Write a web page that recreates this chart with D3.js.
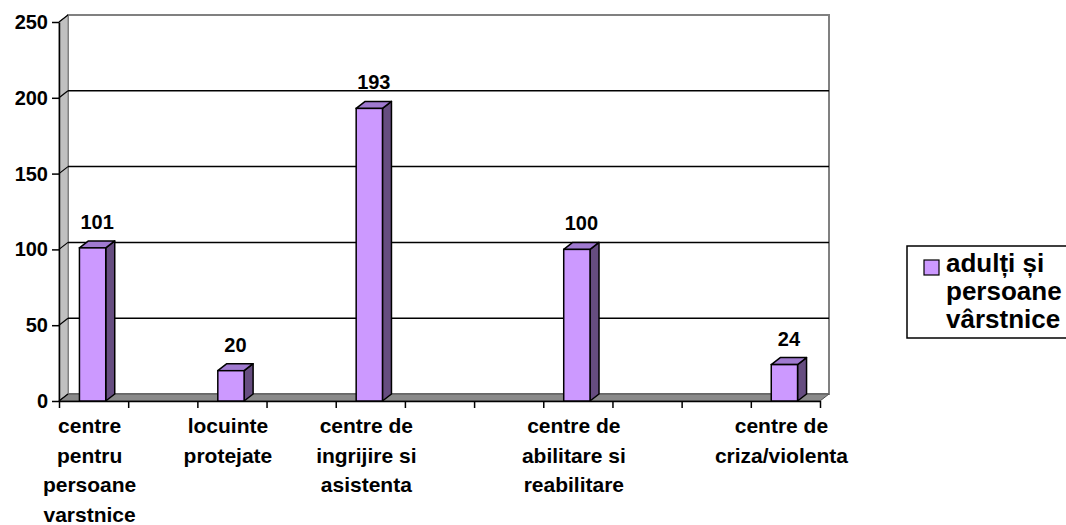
<!DOCTYPE html>
<html>
<head>
<meta charset="utf-8">
<script src="https://cdn.jsdelivr.net/npm/d3@7"></script>
<style>
  body { margin: 0; background: #fff; }
  text { font-family: "Liberation Sans", Arial, sans-serif; font-weight: bold; fill: #000; }
</style>
</head>
<body>
<svg id="vis" width="1066" height="525"></svg>
<script>
// ************************** DATA **************************//
var categories = ["centre pentru persoane varstnice", "", "locuinte protejate", "",
  "centre de ingrijire si asistenta", "", "", "centre de abilitare si reabilitare", "", "",
  "centre de criza/violenta"];
var values = [101, null, 20, null, 193, null, null, 100, null, null, 24];
var yTicks = [0, 50, 100, 150, 200, 250];
var seriesName = "adulți și persoane vârstnice";

// ************************** SCALES **************************//
var svg = d3.select("#vis");
var plotL = 59, plotR = 820, plotB = 401, plotT = 22;
var dx = 9, dy = -7;   // 3d depth offset

var x = d3.scaleBand().domain(d3.range(categories.length)).range([plotL, plotR]);
var xEdge = d3.scaleLinear().domain([0, categories.length]).range([plotL, plotR]);
var y = d3.scaleLinear().domain([0, 250]).range([plotB, plotT]);

var bw = x.bandwidth() * 0.38;

function pts(a) { return a.map(p => p.join(",")).join(" "); }

// ************************** WALLS **************************//
// back wall
svg.append("rect")
  .attr("x", plotL + dx).attr("y", y(250) + dy)
  .attr("width", plotR - plotL).attr("height", y(0) - y(250))
  .attr("fill", "#fff").attr("stroke", "#808080").attr("stroke-width", 2);

// left wall
svg.append("polygon")
  .attr("points", pts([[plotL, y(250)], [plotL + dx, y(250) + dy], [plotL + dx, y(0) + dy], [plotL, y(0)]]))
  .attr("fill", "#c0c0c0").attr("stroke", "#808080").attr("stroke-width", 1);

// floor
svg.append("polygon")
  .attr("points", pts([[plotL, y(0)], [plotR, y(0)], [plotR + dx, y(0) + dy], [plotL + dx, y(0) + dy]]))
  .attr("fill", "#8a8a8a").attr("stroke", "#505050").attr("stroke-width", 1);

// gridlines on the back wall + diagonals on the side wall
var grid = svg.append("g");
yTicks.filter(t => t > 0 && t < 250).forEach(function(t) {
  grid.append("line")
    .attr("x1", plotL + dx).attr("x2", plotR + dx)
    .attr("y1", y(t) + dy).attr("y2", y(t) + dy)
    .attr("stroke", "#000").attr("stroke-width", 1.5);
});
yTicks.forEach(function(t) {
  grid.append("line")
    .attr("x1", plotL).attr("y1", y(t))
    .attr("x2", plotL + dx).attr("y2", y(t) + dy)
    .attr("stroke", "#000").attr("stroke-width", 1.2);
});

// ************************** AXES **************************//
svg.append("g")
  .attr("transform", `translate(${plotL},0)`)
  .call(d3.axisLeft(y).tickValues(yTicks).tickSize(7).tickPadding(4).tickSizeOuter(0))
  .call(g => g.select(".domain").attr("stroke", "#000").attr("stroke-width", 1.5))
  .call(g => g.selectAll(".tick line").attr("stroke", "#000").attr("stroke-width", 1.5))
  .call(g => g.selectAll(".tick text").attr("font-size", "20px")
    .attr("font-family", "'Liberation Sans', Arial, sans-serif").attr("font-weight", "bold").attr("fill", "#000"));

svg.append("g")
  .attr("transform", `translate(0,${plotB})`)
  .call(d3.axisBottom(xEdge).tickValues(d3.range(categories.length + 1)).tickSize(7).tickSizeOuter(0).tickFormat(""))
  .call(g => g.select(".domain").attr("stroke", "#000").attr("stroke-width", 1.5))
  .call(g => g.selectAll(".tick line").attr("stroke", "#000").attr("stroke-width", 1.5));

// ************************** BARS **************************//
var data = values.map((v, i) => ({ i: i, v: v })).filter(d => d.v != null);

var bars = svg.selectAll("g.bar").data(data).join("g").attr("class", "bar");

bars.each(function(d) {
  var g = d3.select(this);
  var x0 = x(d.i) + (x.bandwidth() - bw) / 2 - 1, x1 = x0 + bw;
  var y0 = y(0), y1 = y(d.v);
  // side
  g.append("polygon")
    .attr("points", pts([[x1, y1], [x1 + dx, y1 + dy], [x1 + dx, y0 + dy], [x1, y0]]))
    .attr("fill", "#664d80").attr("stroke", "#000").attr("stroke-width", 1.5).attr("stroke-linejoin", "round");
  // top
  g.append("polygon")
    .attr("points", pts([[x0, y1], [x0 + dx, y1 + dy], [x1 + dx, y1 + dy], [x1, y1]]))
    .attr("fill", "#a07ad0").attr("stroke", "#000").attr("stroke-width", 1.5).attr("stroke-linejoin", "round");
  // front
  g.append("rect")
    .attr("x", x0).attr("y", y1).attr("width", bw).attr("height", y0 - y1)
    .attr("fill", "#cc99ff").attr("stroke", "#000").attr("stroke-width", 1.5);
  // value label
  g.append("text")
    .attr("x", x0 + bw / 2 + dx / 2)
    .attr("y", y1 + dy - 12)
    .attr("text-anchor", "middle")
    .attr("font-size", "20px")
    .text(d.v);
});

// ************************** CATEGORY LABELS **************************//
function wrap(textSel, words, maxW, lineH) {
  var line = [], lines = [];
  var tmp = textSel.append("tspan");
  words.forEach(function(w) {
    var test = line.concat([w]).join(" ");
    tmp.text(test);
    if (tmp.node().getComputedTextLength() > maxW && line.length) {
      lines.push(line.join(" "));
      line = [w];
    } else {
      line.push(w);
    }
  });
  if (line.length) lines.push(line.join(" "));
  tmp.remove();
  var x0 = textSel.attr("x");
  lines.forEach(function(l, k) {
    textSel.append("tspan").attr("x", x0).attr("dy", k === 0 ? 0 : lineH).text(l);
  });
}

categories.forEach(function(c, i) {
  if (!c) return;
  var t = svg.append("text")
    .attr("x", x(i) + x.bandwidth() / 2 - 4)
    .attr("y", 433)
    .attr("text-anchor", "middle")
    .attr("font-size", "21px");
  wrap(t, c.split(" "), 118, 29.6);
});

// ************************** LEGEND **************************//
var legend = svg.append("g");
legend.append("rect")
  .attr("x", 907).attr("y", 246).attr("width", 170).attr("height", 92)
  .attr("fill", "#fff").attr("stroke", "#000").attr("stroke-width", 1.5);
legend.append("rect")
  .attr("x", 924).attr("y", 260).attr("width", 15).attr("height", 15)
  .attr("fill", "#cc99ff").attr("stroke", "#000").attr("stroke-width", 1.2);
var lt = legend.append("text")
  .attr("x", 946).attr("y", 272)
  .attr("font-size", "26px");
wrap(lt, seriesName.split(" "), 125, 28);
</script>
</body>
</html>
